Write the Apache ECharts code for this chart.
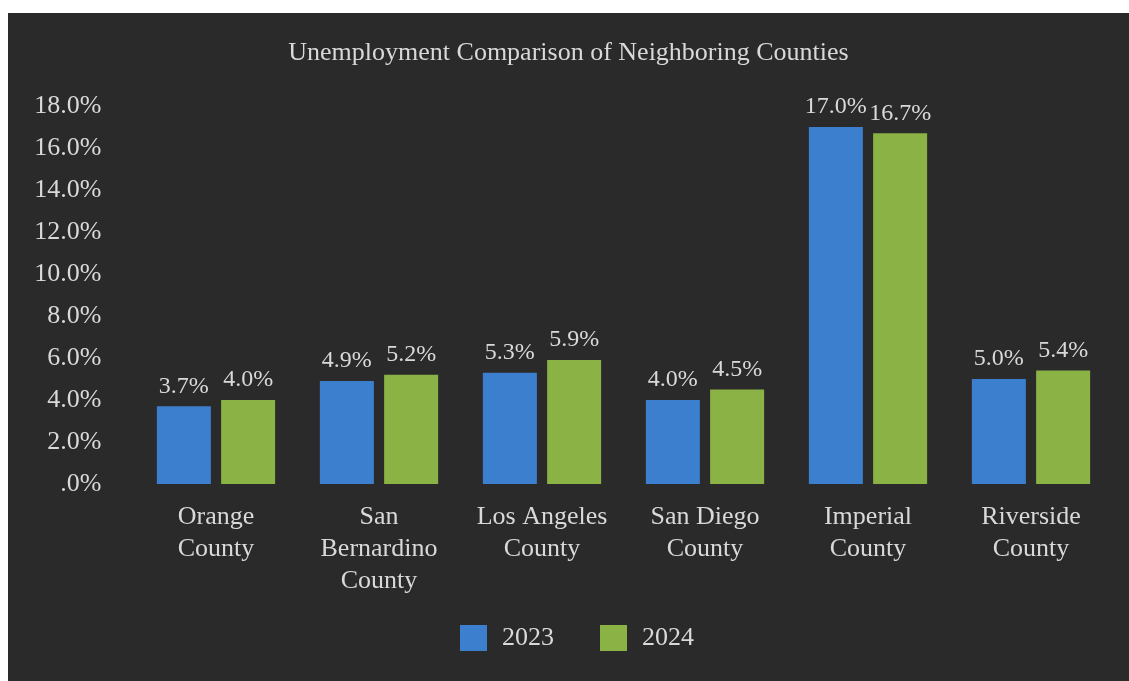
<!DOCTYPE html>
<html>
<head>
<meta charset="utf-8">
<script src="https://cdn.jsdelivr.net/npm/echarts@6/dist/echarts.min.js"></script>
<style>
  html, body { margin: 0; padding: 0; background: #ffffff; }
  #chart { position: absolute; left: 8px; top: 13px; width: 1121px; height: 668px; }
</style>
</head>
<body>
<div id="chart"></div>
<script>
// chart data
const counties = [
  "Orange\nCounty",
  "San\nBernardino\nCounty",
  "Los Angeles\nCounty",
  "San Diego\nCounty",
  "Imperial\nCounty",
  "Riverside\nCounty",
];
const rate2023 = [3.7, 4.9, 5.3, 4.0, 17.0, 5.0];
const rate2024 = [4.0, 5.2, 5.9, 4.5, 16.7, 5.4];

const textColor = "#d9d9d9";
const fontName = "Liberation Serif";

const chart = echarts.init(document.getElementById("chart"));

function pct(v) {
  return v === 0 ? ".0%" : v.toFixed(1) + "%";
}

const option = {
  backgroundColor: "#2a2a2a",
  animation: false,
  textStyle: { fontFamily: fontName, color: textColor },
  title: {
    text: "Unemployment Comparison of Neighboring Counties",
    left: "center",
    top: 22,
    textStyle: {
      fontFamily: fontName,
      fontSize: 26,
      fontWeight: "normal",
      color: textColor,
    },
  },
  legend: {
    bottom: 25,
    left: 447,
    itemWidth: 27,
    itemHeight: 26,
    itemGap: 46,
    icon: "rect",
    textStyle: {
      fontFamily: fontName,
      fontSize: 26,
      color: textColor,
      padding: [0, 0, 0, 10],
    },
    data: ["2023", "2024"],
  },
  grid: {
    left: 126.5,
    right: 16.5,
    top: 93,
    bottom: 197,
    containLabel: false,
  },
  xAxis: {
    type: "category",
    data: counties,
    axisLine: { show: false },
    axisTick: { show: false },
    axisLabel: {
      interval: 0,
      margin: 17,
      fontFamily: fontName,
      fontSize: 26,
      lineHeight: 32,
      color: textColor,
    },
  },
  yAxis: {
    type: "value",
    min: 0,
    max: 18,
    interval: 2,
    splitLine: { show: false },
    axisLine: { show: false },
    axisTick: { show: false },
    axisLabel: {
      margin: 33,
      fontFamily: fontName,
      fontSize: 26,
      color: textColor,
      formatter: pct,
    },
  },
  series: [
    {
      name: "2023",
      type: "bar",
      data: rate2023,
      barWidth: 54,
      barGap: "19%",
      itemStyle: { color: "#3d7fcf" },
      label: {
        show: true,
        position: "top",
        distance: 8,
        fontFamily: fontName,
        fontSize: 24,
        color: textColor,
        formatter: (p) => pct(p.value),
      },
    },
    {
      name: "2024",
      type: "bar",
      data: rate2024,
      barWidth: 54,
      itemStyle: { color: "#8bb244" },
      label: {
        show: true,
        position: "top",
        distance: 8,
        fontFamily: fontName,
        fontSize: 24,
        color: textColor,
        formatter: (p) => pct(p.value),
      },
    },
  ],
};

chart.setOption(option);
</script>
</body>
</html>
